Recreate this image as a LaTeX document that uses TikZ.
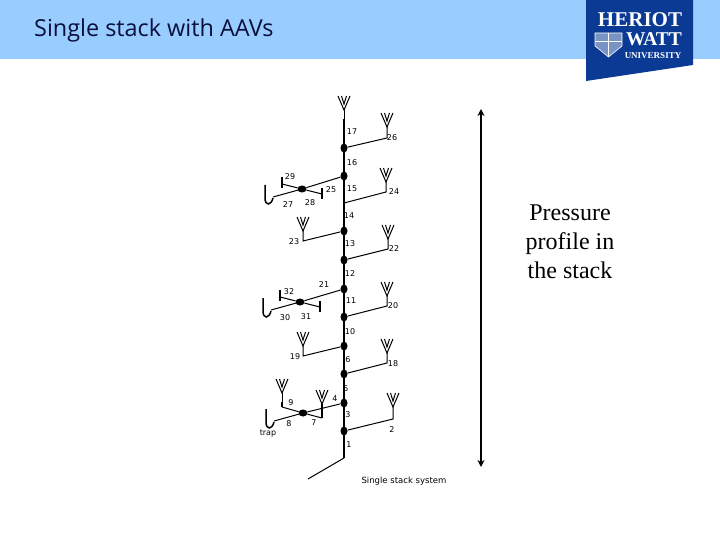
\documentclass[tikz,border=0pt]{standalone}
\usepackage{fontspec}
\setmainfont{Liberation Serif}
\setsansfont{DejaVu Sans}
\newfontfamily\titlefont{Open Sans}
\usetikzlibrary{arrows.meta,shapes.geometric}
\definecolor{BarFill}{HTML}{99CCFF}
\definecolor{LogoBlue}{HTML}{0B3A94}
\definecolor{TitleInk}{HTML}{0A0F3C}
\tikzset{
  pipe/.style={line width=1pt, draw=black},
  stack/.style={line width=2pt, draw=black},
  bar/.style={line width=1.5pt, draw=black},
  jnt/.style={ellipse, fill=black, inner sep=0pt, minimum width=7pt, minimum height=9pt},
  mrg/.style={ellipse, fill=black, inner sep=0pt, minimum width=9pt, minimum height=7pt},
  lbl/.style={font=\sffamily\fontsize{8}{9}\selectfont, inner sep=0pt},
  logo/.style={text=white, inner sep=0pt},
  vent/.pic={\draw[pipe] (-6,-14) -- (0,0) -- (6,-14) (-2.5,-14) -- (0,-6) -- (2.5,-14);},
  trapleg/.pic={
    \draw[pipe] (0,0) -- (-29,8);
    \draw[bar] (-29,9) .. controls (-31,17) and (-37,17) .. (-37,9) -- (-37,-4);},
}
\begin{document}
\begin{tikzpicture}[x=1pt,y=-1pt]
\useasboundingbox (0,0) rectangle (720,540);

% ---------------- title bar and logo ----------------
\fill[BarFill] (0,0) rectangle (720,59);
\node[font=\titlefont\fontsize{23.4}{26}\selectfont, text=TitleInk, anchor=west, inner sep=0pt] (title) at (34,30) {Single stack with AAVs};
\fill[LogoBlue] (586,0) -- (693,0) -- (693,65) -- (586,81) -- cycle;
\node[logo, font=\fontsize{21}{22}\selectfont\bfseries] (heriot) at (640,20) {HERIOT};
\node[logo, font=\fontsize{19.5}{20}\selectfont\bfseries] (watt) at (654,39.5) {WATT};
\node[logo, font=\fontsize{9}{10}\selectfont\bfseries] (univ) at (653,55.5) {UNIVERSITY};
\draw[white, fill=LogoBlue!55, line width=0.6pt] (595,33) -- (622,33) -- (622,46) -- (608.5,57) -- (595,46) -- cycle;
\draw[white, line width=1pt] (608.5,33) -- (608.5,57) (595,42) -- (622,42);

% ---------------- stack ----------------
\coordinate (top) at (344,119);
\coordinate (base) at (344,458);
\coordinate (drain) at (308,479);
\coordinate (v17) at (344,110);
\coordinate (j24) at (344,203);
\node[jnt] (j26) at (344,148) {};
\node[jnt] (j25) at (344,176) {};
\node[jnt] (j23) at (344,231) {};
\node[jnt] (j22) at (344,260) {};
\node[jnt] (j21) at (344,289) {};
\node[jnt] (j20) at (344,317) {};
\node[jnt] (j19) at (344,346) {};
\node[jnt] (j18) at (344,374) {};
\node[jnt] (j4) at (344,403) {};
\node[jnt] (j2) at (344,431) {};
\draw[stack] (top) -- (base);
\draw[pipe] (v17) -- (top);
\draw[pipe] (base) -- (drain);
\pic at (v17) {vent};

% ---------------- branches with a vent ----------------
\foreach \nm/\jn/\x/\ya/\yb in {b26/j26/387/138/127, b24/j24/386/192/182, b22/j22/388/249/239, b20/j20/387/306/296, b18/j18/387/363/353, b2/j2/393/419/407, b23/j23/303/241/231, b19/j19/303/356/346}{
  \coordinate (\nm) at (\x,\ya);
  \coordinate (\nm v) at (\x,\yb);
  \draw[pipe] (\jn) -- (\nm) -- (\nm v);
  \pic at (\nm v) {vent};
}

% ---------------- merge groups ----------------
\foreach \nm/\jn/\x/\y in {m1/j25/302/189, m2/j21/300/302, m3/j4/303/413}{
  \node[mrg] (\nm) at (\x,\y) {};
  \draw[pipe] (\jn) -- (\nm);
  \pic at (\nm) {trapleg};
}
\draw[pipe] (m1) -- (282,184);
\draw[bar] (282,177) -- (282,188);
\draw[pipe] (m1) -- (322,194);
\draw[bar] (322,188) -- (322,199);
\draw[pipe] (m2) -- (280,297);
\draw[bar] (280,290) -- (280,301);
\draw[pipe] (m2) -- (320,307);
\draw[bar] (320,301) -- (320,312);
\coordinate (b9) at (282,407);
\coordinate (b9v) at (282,393);
\coordinate (b7) at (322,418);
\coordinate (b7v) at (322,404);
\draw[pipe] (m3) -- (b9);
\draw[bar] (b9) -- (282,402);
\draw[pipe] (b9v) -- (282,402);
\draw[pipe] (m3) -- (b7);
\draw[bar] (b7) -- (b7v);
\pic at (b9v) {vent};
\pic at (b7v) {vent};

% ---------------- pipe numbers ----------------
\foreach \txt/\x/\y in {17/352/132, 26/392/138, 16/352/163, 29/290/177, 25/331/190, 15/352/189, 24/394/192, 27/288/205, 28/310/203, 14/349/216, 23/294/242, 13/350/244, 22/394/249, 12/350/274, 21/324/285, 32/289/292, 11/351/301, 20/393/306, 30/285/318, 31/306/317, 10/350/332, 19/295/357, 6/348/360, 18/393/364, 5/346/389, 4/335/399, 9/291/403, 3/348/415, 8/289/424, 7/314/423, 2/392/430, trap/268/434, 1/349/445}{
  \node[lbl] (n\txt) at (\x,\y) {\txt};
}
\node[lbl, font=\sffamily\fontsize{8.5}{9}\selectfont] (cap) at (404,481) {Single stack system};

% ---------------- pressure arrow ----------------
\coordinate (pbot) at (481,467);
\coordinate (ptop) at (481,109);
\draw[{Stealth[length=7pt,width=7pt]}-{Stealth[length=7pt,width=7pt]}, line width=1.5pt] (pbot) -- (ptop);
\node[font=\fontsize{24}{29}\selectfont, align=center, inner sep=0pt] (press) at (570,242) {Pressure\\profile in\\the stack};

\end{tikzpicture}
\end{document}
